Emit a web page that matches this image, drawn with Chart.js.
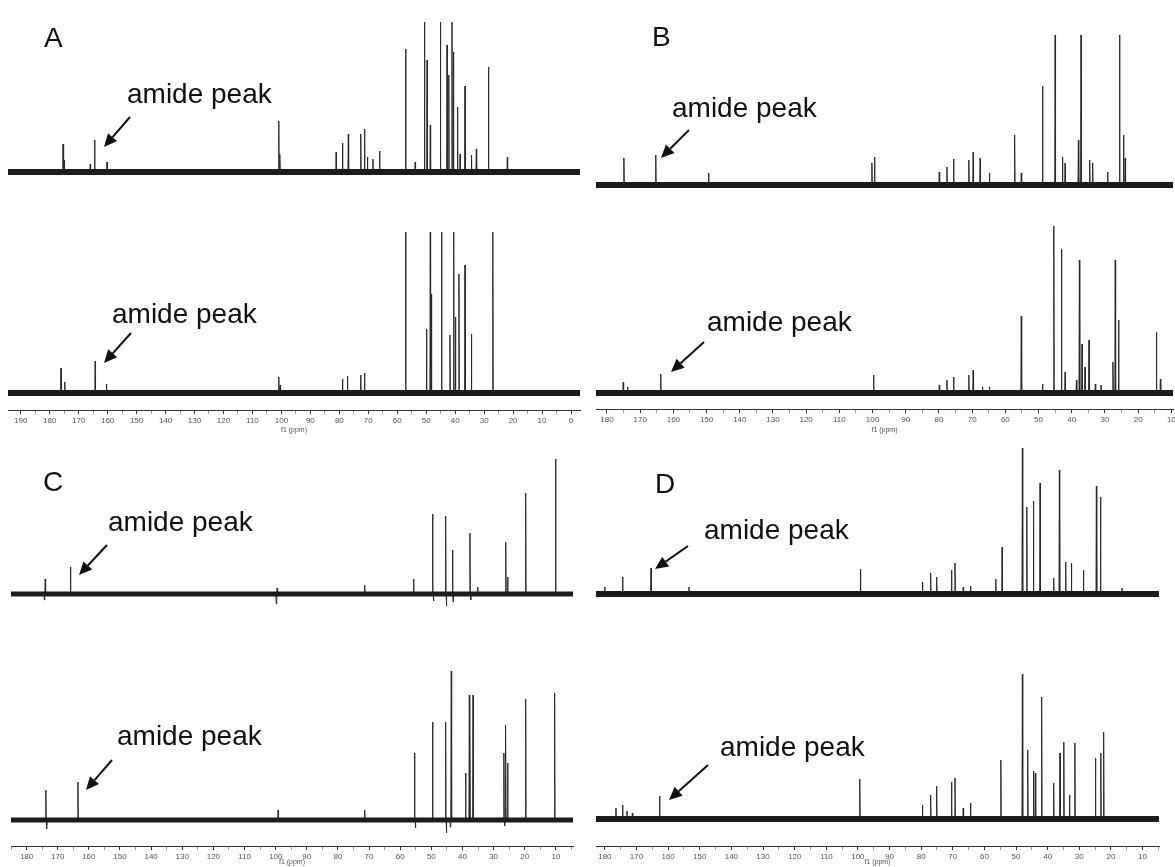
<!DOCTYPE html>
<html><head><meta charset="utf-8">
<script src="https://cdn.jsdelivr.net/npm/chart.js@4.4.0/dist/chart.umd.min.js"></script>
<style>
html,body{margin:0;padding:0;background:#fff;width:1175px;height:867px;overflow:hidden;position:relative;font-family:"Liberation Sans",Arial,sans-serif;}
canvas{position:absolute;display:block;}
.lbl{position:absolute;color:#111;line-height:1;white-space:nowrap;}
.big{font-size:28px;}
.amide{font-size:28px;}
svg{position:absolute;left:0;top:0;}
</style></head><body>
<canvas id="cA" width="590" height="435" style="left:0;top:0"></canvas>
<canvas id="cB" width="585" height="435" style="left:590px;top:0"></canvas>
<canvas id="cC" width="590" height="432" style="left:0;top:435px"></canvas>
<canvas id="cD" width="585" height="432" style="left:590px;top:435px"></canvas>

<div class="lbl big" style="left:44px;top:24px">A</div>
<div class="lbl big" style="left:652px;top:23px">B</div>
<div class="lbl big" style="left:43px;top:468px">C</div>
<div class="lbl big" style="left:655px;top:470px">D</div>

<div class="lbl amide" style="left:127px;top:80px">amide peak</div>
<div class="lbl amide" style="left:112px;top:300px">amide peak</div>
<div class="lbl amide" style="left:672px;top:94px">amide peak</div>
<div class="lbl amide" style="left:707px;top:308px">amide peak</div>
<div class="lbl amide" style="left:108px;top:508px">amide peak</div>
<div class="lbl amide" style="left:117px;top:722px">amide peak</div>
<div class="lbl amide" style="left:704px;top:516px">amide peak</div>
<div class="lbl amide" style="left:720px;top:733px">amide peak</div>

<svg width="1175" height="867" id="arrows"></svg>

<script>
// ---------- DATA (chemical shift in ppm, intensity in a.u.) ----------
const A_top_ppm = [175.4,175.0,166.0,164.5,160.2,100.9,100.5,81.1,78.9,76.9,72.6,71.3,70.3,68.4,66.1,57.1,53.8,50.6,49.7,48.6,45.1,42.8,42.2,41.1,40.6,39.2,38.3,36.6,34.4,32.7,28.5,22.0];
const A_top_int = [28,12,8,32,10,51,18,20,29,38,38,43,15,13,21,123,10,150,112,47,150,127,97,150,120,65,18,86,17,23,105,15];

const A_bot_ppm = [176.1,174.8,164.3,160.4,100.9,100.4,78.9,77.2,72.6,71.3,57.1,49.9,48.6,48.2,44.7,41.8,40.5,39.9,38.7,36.6,34.4,27.0];
const A_bot_int = [25,11,32,9,16,8,14,17,18,20,161,64,161,99,161,58,161,76,119,128,59,161];

const B_top_ppm = [174.9,165.3,149.4,100.2,99.4,79.9,77.6,75.6,71.0,69.7,67.6,64.8,57.2,55.2,48.8,45.0,42.8,42.0,38.0,37.2,34.6,33.7,29.2,25.6,24.4,23.9];
const B_top_int = [27,30,12,22,28,13,18,26,25,33,27,12,50,12,99,150,28,22,45,150,25,22,13,150,50,27];

const B_bot_ppm = [175.1,173.8,163.8,99.7,79.9,77.6,75.6,71.0,69.7,66.9,64.8,55.2,48.8,45.4,43.1,42.0,38.6,37.7,36.9,36.0,34.8,32.9,31.2,27.6,26.9,25.9,14.5,13.3];
const B_bot_int = [11,6,19,18,8,13,16,18,23,6,6,77,9,167,144,21,13,133,49,26,53,9,8,31,133,73,61,14];

const C_top_ppm = [174.3,174.0,165.9,99.8,99.5,71.4,55.7,49.6,49.3,45.4,45.1,43.2,43.0,37.6,37.3,35.1,26.1,25.5,19.7,10.1];
const C_top_int = [-6,15,27,-10,6,9,15,80,-7,78,-12,44,-8,61,-6,7,52,17,101,135];

const C_bot_ppm = [173.8,173.5,163.5,99.2,71.4,55.4,55.1,49.6,45.4,45.1,43.9,43.6,39.0,37.8,37.6,36.6,26.7,26.4,26.1,25.5,19.7,10.4];
const C_bot_int = [30,-9,38,10,10,67,-8,98,98,-13,-7,149,47,125,112,125,67,-6,95,57,121,127];

const D_top_ppm = [180.0,174.4,165.4,153.4,99.2,79.6,77.0,75.1,70.4,69.3,66.7,64.4,56.4,54.4,48.0,46.6,44.5,42.4,38.1,36.3,34.3,32.5,28.7,24.6,23.3,16.5];
const D_top_int = [7,17,26,7,25,12,21,17,24,31,7,8,15,47,146,87,93,111,16,124,32,31,24,108,97,6];

const D_bot_ppm = [176.5,174.4,173.0,171.3,162.7,99.4,79.6,77.0,75.1,70.4,69.3,66.7,64.4,54.8,48.0,46.3,44.5,43.9,41.9,38.1,36.1,34.9,33.1,31.4,24.9,23.2,22.3];
const D_bot_int = [11,14,8,6,23,40,14,24,33,37,41,11,16,59,145,69,48,46,122,36,66,77,24,76,61,66,87];

// x-axis ranges (ppm) of each panel
const A_range = [-3.1, 194.4];
const B_range = [9.5, 183.3];
const C_range = [4.5, 185.0];
const D_range = [4.8, 182.8];

// ---------- helpers ----------
function sticks(ppm, inten, w) {
  const idx = ppm.map((p, i) => i).sort((a, b) => ppm[b] - ppm[a]);
  const pts = [];
  idx.forEach(i => {
    pts.push({x: ppm[i] + w, y: 0});
    pts.push({x: ppm[i], y: inten[i]});
    pts.push({x: ppm[i] - w, y: 0});
  });
  return pts;
}

function panel(id, range, top, bot, lay) {
  const areaB = lay.areaBottom;
  const ds = (data, axis, bw, col) => ({
    data, yAxisID: axis, borderColor: col, borderWidth: bw,
    pointRadius: 0, tension: 0, fill: false
  });
  const base = [{x: range[0], y: 0}, {x: range[1], y: 0}];
  new Chart(document.getElementById(id), {
    type: 'line',
    data: {datasets: [
      ds(base, 'yT', lay.band, '#1c1c1c'),
      ds(sticks(top[0], top[1], 0.12), 'yT', 1, '#2a2a2a'),
      ds(base, 'yB', lay.band, '#1c1c1c'),
      ds(sticks(bot[0], bot[1], 0.12), 'yB', 1, '#2a2a2a')
    ]},
    options: {
      responsive: false, animation: false, events: [],
      layout: {padding: {left: lay.padL, right: lay.padR, top: 0, bottom: 0}},
      plugins: {legend: {display: false}, tooltip: {enabled: false}},
      scales: {
        x: {
          type: 'linear', reverse: true, min: range[0], max: range[1],
          afterBuildTicks: s => {
            const t = [];
            for (let v = Math.ceil(s.min / 5) * 5; v <= s.max; v += 5) t.push({value: v});
            s.ticks = t;
          },
          afterFit: s => { s.height = lay.axisH; s.paddingLeft = 0; s.paddingRight = 0; },
          grid: {display: true, drawOnChartArea: false, drawTicks: true, tickLength: 4,
                 tickColor: c => (c.tick && c.tick.value % 10 === 0) ? '#333' : '#999', tickWidth: 1},
          border: {display: true, color: '#333', width: 1},
          ticks: {autoSkip: false, maxRotation: 0, padding: 2, color: '#555',
                  font: {size: 8, family: 'Liberation Sans'},
                  callback: v => (v % 10 === 0 ? String(v) : '')},
          title: {display: true, text: 'f1 (ppm)', color: '#555', padding: {top: 0, bottom: 1},
                  font: {size: 7, family: 'Liberation Sans'}}
        },
        yT: {type: 'linear', display: false, min: -(areaB - top[2]), max: top[2]},
        yB: {type: 'linear', display: false, min: -(areaB - bot[2]), max: bot[2]}
      }
    }
  });
}

panel('cA', A_range, [A_top_ppm, A_top_int, 172], [A_bot_ppm, A_bot_int, 393],
      {areaBottom: 410, axisH: 25, padL: 8, padR: 10, band: 6});
panel('cB', B_range, [B_top_ppm, B_top_int, 185], [B_bot_ppm, B_bot_int, 393],
      {areaBottom: 409, axisH: 26, padL: 6, padR: 2, band: 6});
panel('cC', C_range, [C_top_ppm, C_top_int, 159], [C_bot_ppm, C_bot_int, 385],
      {areaBottom: 411, axisH: 21, padL: 11, padR: 17, band: 5});
panel('cD', D_range, [D_top_ppm, D_top_int, 159], [D_bot_ppm, D_bot_int, 384],
      {areaBottom: 411, axisH: 21, padL: 6, padR: 16, band: 6});

// ---------- arrows (annotation) ----------
const arrows = [
  [130,117,104,147],[131,333,104,363],[689,130,661,158],[704,342,671,372],
  [107,545,79,575],[112,760,86,790],[688,546,655,569],[708,765,669,800]
];
const svg = document.getElementById('arrows');
const NS = 'http://www.w3.org/2000/svg';
arrows.forEach(([x1,y1,x2,y2]) => {
  const dx = x2 - x1, dy = y2 - y1, L = Math.hypot(dx, dy);
  const ux = dx / L, uy = dy / L, hl = 13, hw = 6;
  const bx = x2 - ux * hl, by = y2 - uy * hl;
  const line = document.createElementNS(NS, 'line');
  line.setAttribute('x1', x1); line.setAttribute('y1', y1);
  line.setAttribute('x2', bx); line.setAttribute('y2', by);
  line.setAttribute('stroke', '#111'); line.setAttribute('stroke-width', '2');
  svg.appendChild(line);
  const head = document.createElementNS(NS, 'polygon');
  head.setAttribute('points', `${x2},${y2} ${bx - uy*hw},${by + ux*hw} ${bx + uy*hw},${by - ux*hw}`);
  head.setAttribute('fill', '#111');
  svg.appendChild(head);
});
</script>
</body></html>
